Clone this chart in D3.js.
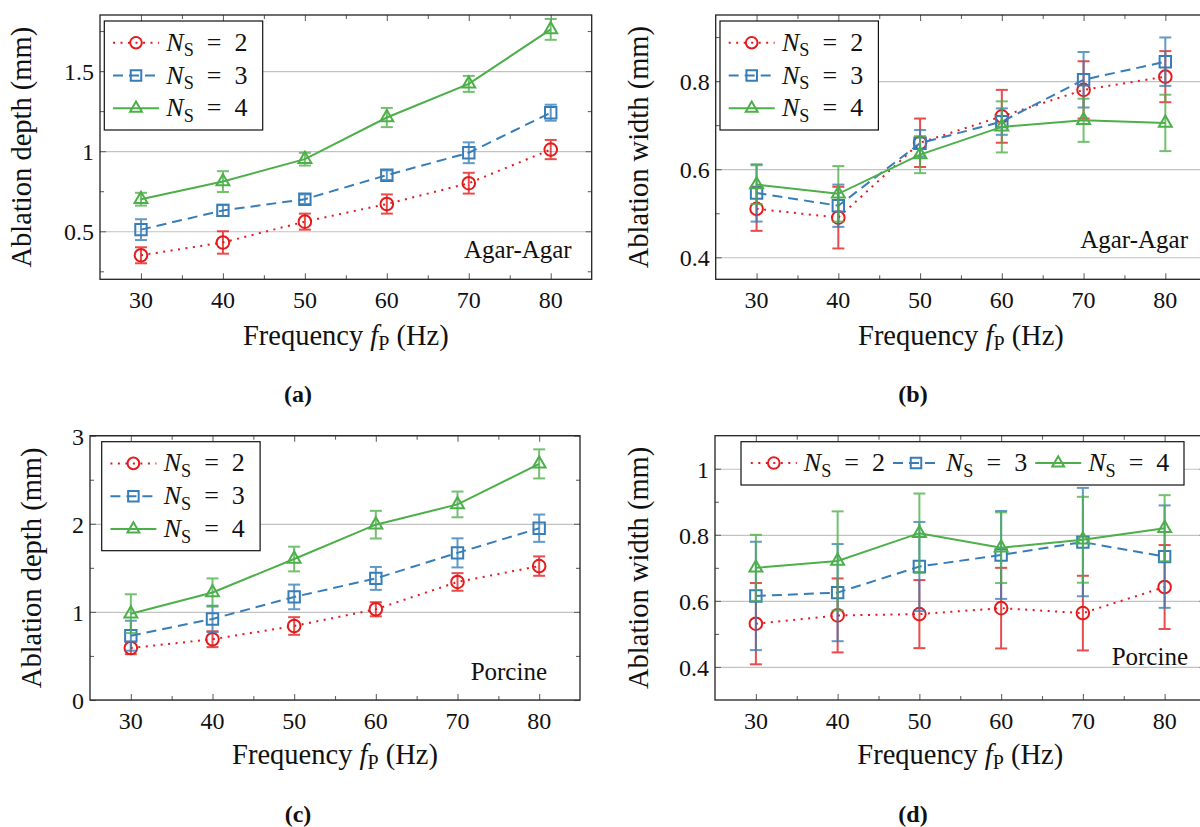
<!DOCTYPE html>
<html>
<head>
<meta charset="utf-8">
<script src="https://cdn.jsdelivr.net/npm/d3@7"></script>
<style>
  body { margin: 0; background: #fff; }
</style>
</head>
<body>
<svg id="fig" width="1200" height="827" style="font-family: 'Liberation Serif'"></svg>
<script>
var freq = [30, 40, 50, 60, 70, 80];
var freqMinor = [35, 45, 55, 65, 75];
var nsValues = ["2", "3", "4"];

// (a) agar-agar, depth
var agarDepthNs2 = [0.35, 0.43, 0.56, 0.67, 0.80, 1.01];
var agarDepthNs2Err = [0.05, 0.07, 0.05, 0.06, 0.065, 0.06];
var agarDepthNs3 = [0.51, 0.63, 0.70, 0.85, 0.99, 1.24];
var agarDepthNs3Err = [0.065, 0.035, 0.03, 0.03, 0.065, 0.05];
var agarDepthNs4 = [0.70, 0.81, 0.95, 1.21, 1.42, 1.76];
var agarDepthNs4Err = [0.04, 0.065, 0.04, 0.06, 0.05, 0.065];

// (b) agar-agar, width
var agarWidthNs2 = [0.51, 0.49, 0.66, 0.72, 0.78, 0.81];
var agarWidthNs2Err = [0.05, 0.07, 0.055, 0.06, 0.065, 0.058];
var agarWidthNs3 = [0.546, 0.517, 0.659, 0.708, 0.803, 0.844];
var agarWidthNs3Err = [0.065, 0.048, 0.03, 0.03, 0.063, 0.055];
var agarWidthNs4 = [0.565, 0.544, 0.633, 0.696, 0.711, 0.705];
var agarWidthNs4Err = [0.044, 0.063, 0.042, 0.058, 0.049, 0.064];

// (c) porcine, depth
var porcDepthNs2 = [0.59, 0.69, 0.84, 1.03, 1.34, 1.52];
var porcDepthNs2Err = [0.07, 0.09, 0.1, 0.08, 0.1, 0.11];
var porcDepthNs3 = [0.73, 0.92, 1.17, 1.38, 1.67, 1.95];
var porcDepthNs3Err = [0.17, 0.15, 0.14, 0.13, 0.165, 0.155];
var porcDepthNs4 = [0.98, 1.22, 1.60, 1.99, 2.22, 2.68];
var porcDepthNs4Err = [0.22, 0.16, 0.14, 0.157, 0.146, 0.165];

// (d) porcine, width
var porcWidthNs2 = [0.531, 0.556, 0.56, 0.578, 0.563, 0.642];
var porcWidthNs2Err = [0.123, 0.112, 0.103, 0.122, 0.113, 0.127];
var porcWidthNs3 = [0.615, 0.625, 0.704, 0.739, 0.778, 0.734];
var porcWidthNs3Err = [0.164, 0.147, 0.135, 0.133, 0.164, 0.155];
var porcWidthNs4 = [0.70, 0.721, 0.805, 0.761, 0.785, 0.82];
var porcWidthNs4Err = [0.10, 0.15, 0.12, 0.107, 0.13, 0.10];

// y ticks
var agarDepthTicks = [0.5, 1, 1.5];
var agarDepthMinor = [0.25, 0.75, 1.25, 1.75];
var agarWidthTicks = [0.4, 0.6, 0.8];
var agarWidthMinor = [0.5, 0.7, 0.9];
var porcDepthTicks = [0, 1, 2, 3];
var porcDepthMinor = [0.5, 1.5, 2.5];
var porcWidthTicks = [0.4, 0.6, 0.8, 1];
var porcWidthMinor = [0.5, 0.7, 0.9];

var FONT = "'Liberation Serif'";

var styles = [
  {color: "#e41a1c", dash: "2 5.5", symbol: d3.symbolCircle, size: 125},
  {color: "#377eb8", dash: "10 6", symbol: d3.symbolSquare, size: 130},
  {color: "#4daf4a", dash: null, symbol: d3.symbolTriangle, size: 72}
];

var panels = [
  {left: 100, right: 591.7, top: 15, bottom: 279.3, yDomain: [0.2, 1.85],
   yTicks: agarDepthTicks, yMinor: agarDepthMinor, yLabel: "Ablation depth (mm)", yLabelX: 31,
   series: [[agarDepthNs2, agarDepthNs2Err], [agarDepthNs3, agarDepthNs3Err], [agarDepthNs4, agarDepthNs4Err]],
   note: "Agar-Agar", noteX: 571.7, noteY: 258,
   legend: {x: 104.3, y: 21, horizontal: false}, caption: "(a)", capX: 298, capY: 402},
  {left: 715.7, right: 1206.2, top: 15, bottom: 279.3, yDomain: [0.35, 0.95],
   yTicks: agarWidthTicks, yMinor: agarWidthMinor, yLabel: "Ablation width (mm)", yLabelX: 648,
   series: [[agarWidthNs2, agarWidthNs2Err], [agarWidthNs3, agarWidthNs3Err], [agarWidthNs4, agarWidthNs4Err]],
   note: "Agar-Agar", noteX: 1188, noteY: 248,
   legend: {x: 720, y: 21, horizontal: false}, caption: "(b)", capX: 913, capY: 402},
  {left: 90, right: 580, top: 435.7, bottom: 700, yDomain: [0, 3],
   yTicks: porcDepthTicks, yMinor: porcDepthMinor, yLabel: "Ablation depth (mm)", yLabelX: 41,
   series: [[porcDepthNs2, porcDepthNs2Err], [porcDepthNs3, porcDepthNs3Err], [porcDepthNs4, porcDepthNs4Err]],
   note: "Porcine", noteX: 547, noteY: 680,
   legend: {x: 101.7, y: 441.7, horizontal: false}, caption: "(c)", capX: 298, capY: 822},
  {left: 715, right: 1205.5, top: 435.7, bottom: 700, yDomain: [0.3, 1.1],
   yTicks: porcWidthTicks, yMinor: porcWidthMinor, yLabel: "Ablation width (mm)", yLabelX: 648,
   series: [[porcWidthNs2, porcWidthNs2Err], [porcWidthNs3, porcWidthNs3Err], [porcWidthNs4, porcWidthNs4Err]],
   note: "Porcine", noteX: 1188, noteY: 665,
   legend: {x: 741, y: 441.7, horizontal: true}, caption: "(d)", capX: 913, capY: 822}
];

var svg = d3.select("#fig");

function txt(parent) {
  return parent.append("text").style("font-family", FONT).attr("fill", "#111");
}

function nsText(sel, k, fs) {
  sel.append("tspan").attr("font-style", "italic").text("N");
  sel.append("tspan").attr("font-size", fs * 0.7).attr("dy", fs * 0.22).text("S");
  sel.append("tspan").attr("dy", -fs * 0.22).text("\u2002=\u2002" + k);
}

function legendSample(g, st, x0, yc) {
  g.append("line")
    .attr("x1", x0).attr("x2", x0 + 46).attr("y1", yc).attr("y2", yc)
    .attr("stroke", st.color).attr("stroke-width", 2)
    .attr("stroke-dasharray", st.dash);
  g.append("path")
    .attr("d", d3.symbol().type(st.symbol).size(st.size * 0.85)())
    .attr("transform", "translate(" + (x0 + 23) + "," + yc + ")")
    .attr("fill", "none").attr("stroke", st.color).attr("stroke-width", 2);
}

function drawLegend(lg) {
  var g = svg.append("g");
  var fs = 26;
  if (!lg.horizontal) {
    g.append("rect").attr("x", lg.x).attr("y", lg.y).attr("width", 158.4).attr("height", 109)
      .attr("fill", "#fff").attr("stroke", "#111").attr("stroke-width", 1.2);
    nsValues.forEach(function (k, i) {
      var yc = lg.y + 21.7 + i * 32.8;
      legendSample(g, styles[i], lg.x + 8.7, yc);
      nsText(txt(g).attr("x", lg.x + 62).attr("y", yc + 8).attr("font-size", fs), k, fs);
    });
  } else {
    g.append("rect").attr("x", lg.x).attr("y", lg.y).attr("width", 443).attr("height", 43.3)
      .attr("fill", "#fff").attr("stroke", "#111").attr("stroke-width", 1.2);
    nsValues.forEach(function (k, i) {
      var yc = lg.y + 21.3;
      var x0 = lg.x + 9.8 + i * 142.2;
      legendSample(g, styles[i], x0, yc);
      nsText(txt(g).attr("x", x0 + 53).attr("y", yc + 8).attr("font-size", fs), k, fs);
    });
  }
}

function drawPanel(p) {
  var x = d3.scaleLinear().domain([25, 85]).range([p.left, p.right]);
  var y = d3.scaleLinear().domain(p.yDomain).range([p.bottom, p.top]);
  var w = p.right - p.left;
  var g = svg.append("g");

  // grid
  g.append("g").attr("transform", "translate(" + p.left + ",0)")
    .call(d3.axisLeft(y).tickValues(p.yTicks).tickSize(-w).tickFormat(""))
    .call(function (s) { s.select(".domain").remove(); })
    .selectAll("line").attr("stroke", "#c2c2c2").attr("stroke-width", 1.2);

  // ticks on all four sides, pointing inward (labels drawn separately)
  function tickAxis(axis, tr, vals, len) {
    var a = g.append("g").attr("transform", tr)
      .call(axis.tickValues(vals).tickSize(-len).tickFormat(""));
    a.select(".domain").remove();
    a.selectAll("text").remove();
    a.selectAll("line").attr("stroke", "#666").attr("stroke-width", 1.1);
  }
  tickAxis(d3.axisBottom(x), "translate(0," + p.bottom + ")", freq, 6);
  tickAxis(d3.axisBottom(x), "translate(0," + p.bottom + ")", freqMinor, 4);
  tickAxis(d3.axisTop(x), "translate(0," + p.top + ")", freq, 6);
  tickAxis(d3.axisTop(x), "translate(0," + p.top + ")", freqMinor, 4);
  tickAxis(d3.axisLeft(y), "translate(" + p.left + ",0)", p.yTicks, 6);
  tickAxis(d3.axisLeft(y), "translate(" + p.left + ",0)", p.yMinor, 4);
  tickAxis(d3.axisRight(y), "translate(" + p.right + ",0)", p.yTicks, 6);
  tickAxis(d3.axisRight(y), "translate(" + p.right + ",0)", p.yMinor, 4);

  // tick labels
  var fmt = d3.format("~g");
  freq.forEach(function (f) {
    txt(g).attr("x", x(f)).attr("y", p.bottom + 28.5).attr("text-anchor", "middle")
      .attr("font-size", 24).text(f);
  });
  p.yTicks.forEach(function (v) {
    txt(g).attr("x", p.left - 6).attr("y", y(v) + 9).attr("text-anchor", "end")
      .attr("font-size", 24).text(fmt(v));
  });

  // frame
  g.append("rect").attr("x", p.left).attr("y", p.top).attr("width", w).attr("height", p.bottom - p.top)
    .attr("fill", "none").attr("stroke", "#222").attr("stroke-width", 1.3);

  // series
  p.series.forEach(function (s, i) {
    var st = styles[i];
    var vals = s[0], errs = s[1];
    var pts = freq.map(function (f, j) { return {f: f, v: vals[j], e: errs[j]}; });
    var sg = g.append("g");
    sg.append("path").datum(pts)
      .attr("d", d3.line().x(function (d) { return x(d.f); }).y(function (d) { return y(d.v); }))
      .attr("fill", "none").attr("stroke", st.color).attr("stroke-width", 2)
      .attr("stroke-dasharray", st.dash);
    var eb = sg.selectAll(".eb").data(pts).enter().append("g")
      .attr("stroke", st.color).attr("stroke-width", 2).attr("opacity", 0.78);
    eb.append("line")
      .attr("x1", function (d) { return x(d.f); }).attr("x2", function (d) { return x(d.f); })
      .attr("y1", function (d) { return y(d.v - d.e); }).attr("y2", function (d) { return y(d.v + d.e); });
    [-1, 1].forEach(function (sgn) {
      eb.append("line")
        .attr("x1", function (d) { return x(d.f) - 6; }).attr("x2", function (d) { return x(d.f) + 6; })
        .attr("y1", function (d) { return y(d.v + sgn * d.e); }).attr("y2", function (d) { return y(d.v + sgn * d.e); });
    });
    sg.selectAll(".mk").data(pts).enter().append("path")
      .attr("d", d3.symbol().type(st.symbol).size(st.size)())
      .attr("transform", function (d) { return "translate(" + x(d.f) + "," + y(d.v) + ")"; })
      .attr("fill", "none").attr("stroke", st.color).attr("stroke-width", 2);
  });

  // note
  txt(g).attr("x", p.noteX).attr("y", p.noteY).attr("text-anchor", "end")
    .attr("font-size", 25).text(p.note);

  // axis labels
  var xl = txt(g).attr("x", (p.left + p.right) / 2).attr("y", p.bottom + (p.top < 100 ? 65.7 : 64))
    .attr("text-anchor", "middle").attr("font-size", 28.5);
  xl.append("tspan").text("Frequency ");
  xl.append("tspan").attr("font-style", "italic").text("f");
  xl.append("tspan").attr("font-size", 20).attr("dy", 5).text("P");
  xl.append("tspan").attr("dy", -5).text(" (Hz)");

  txt(g)
    .attr("transform", "translate(" + p.yLabelX + "," + (p.top + p.bottom) / 2 + ") rotate(-90)")
    .attr("text-anchor", "middle").attr("font-size", 28.5).text(p.yLabel);

  txt(g).attr("x", p.capX).attr("y", p.capY).attr("text-anchor", "middle")
    .attr("font-size", 24).attr("font-weight", "bold").text(p.caption);

  drawLegend(p.legend);
}

panels.forEach(drawPanel);
</script>
</body>
</html>
